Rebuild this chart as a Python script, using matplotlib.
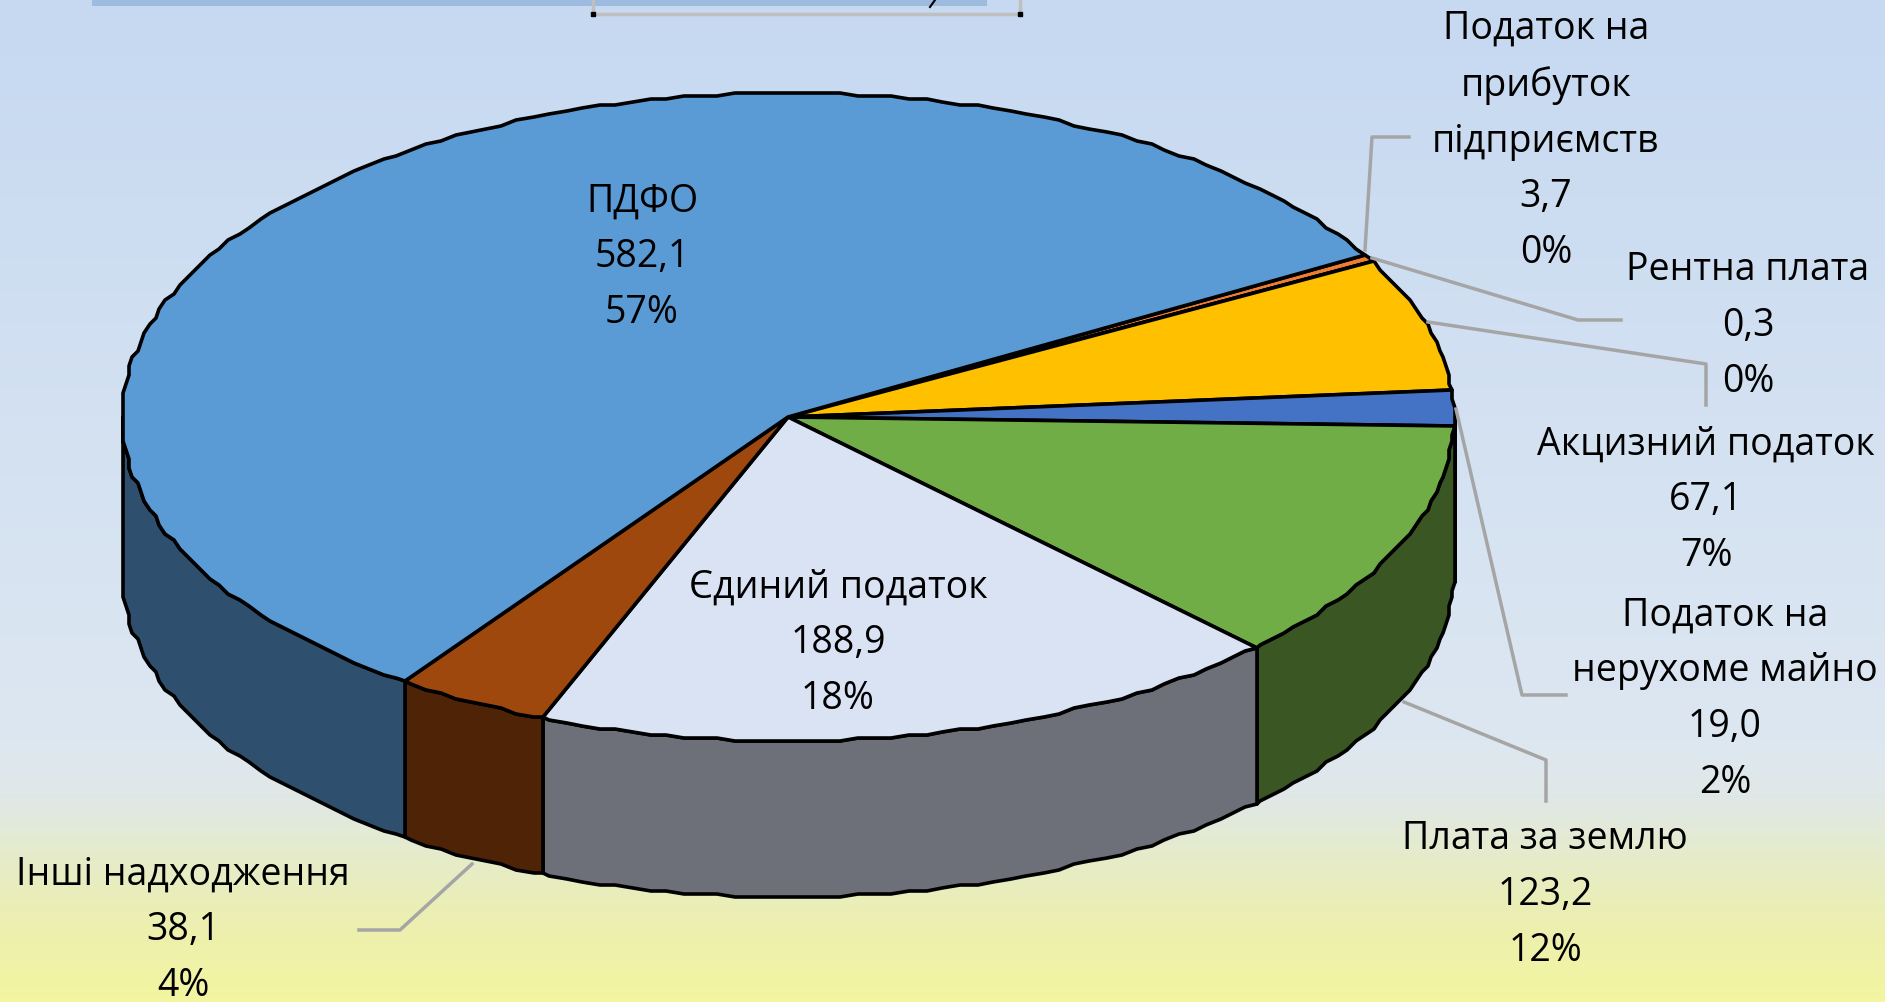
import numpy as np
import matplotlib
matplotlib.use('Agg')
from matplotlib import pyplot as plt
from matplotlib.colors import LinearSegmentedColormap
from matplotlib.patches import Polygon, Rectangle

names = ['Податок на\nприбуток\nпідприємств', 'Рентна плата', 'Акцизний податок',
         'Податок на\nнерухоме майно', 'Плата за землю', 'Єдиний податок',
         'Інші надходження', 'ПДФО']
values = [3.7, 0.3, 67.1, 19.0, 123.2, 188.9, 38.1, 582.1]
percents = [0, 0, 7, 2, 12, 18, 4, 57]
top_colors = ['#ED7D31', '#A5A5A5', '#FFC000', '#4472C4', '#70AD47', '#DAE3F3', '#9E480E', '#5B9BD5']
side_colors = ['#8A4A1D', '#606060', '#947000', '#28447A', '#3A5723', '#6D7079', '#4F2306', '#2F4F6E']

# label centres, pixels of the reference
label_pos = [(1546, 141), (1748, 326), (1706, 500), (1725, 699), (1545, 895), (838, 643), (183, 930), (642, 257)]
leaders = [[(1409, 137), (1372, 137), (1365, 250)],
           [(1621, 320), (1578, 320), (1372, 258)],
           [(1706, 405), (1706, 364), (1428, 322)],
           [(1566, 695), (1522, 695), (1456, 409)],
           [(1546, 801), (1546, 760), (1404, 702)],
           [(359, 930), (400, 930), (472, 864)]]

W, H = 1885, 1002
cx, cy, a, b, depth = 788, 417, 666, 324, 156
start = 29.9
step = 1.5

plt.rcParams['font.family'] = ['Open Sans', 'DejaVu Sans']

fig = plt.figure(figsize=(W / 100, H / 100), dpi=100)
ax = fig.add_axes([0, 0, 1, 1])
ax.set_xlim(0, W)
ax.set_ylim(H, 0)
ax.axis('off')

bg = LinearSegmentedColormap.from_list('bg', [(0, '#C6D9F1'), (0.74, '#DDE7F1'), (0.8, '#E0E8E6'),
                                              (0.86, '#E6ECC8'), (0.93, '#EDF0AE'), (1, '#F3F5A0')])
ax.imshow(np.linspace(0, 1, 256).reshape(-1, 1), cmap=bg, extent=[0, W, H, 0], aspect='auto', zorder=0)

# remains of the shape cut off at the top edge
ax.add_patch(Rectangle((92, -5), 895, 11, color='#9DBADF', zorder=1, lw=0))
ax.plot([593, 593, 1020, 1020], [-5, 14, 14, -5], color='#BFBFBF', lw=2.5, zorder=2, solid_joinstyle='miter')
ax.plot([593, 1020], [14, 14], ls='', marker='s', ms=2.5, color='black', zorder=3)
ax.plot([935, 930], [0, 7], color='black', lw=1.5, zorder=3)


def rim(t1, t2):
    # same angle grid for every slice, so side and top outlines coincide
    inner = np.arange(np.ceil(t2 / step), np.floor(t1 / step) + 1)[::-1] * step
    t = np.radians(np.concatenate([[t1], inner, [t2]]))
    x = cx + a * np.cos(t)
    y = cy - b * np.sin(t)
    # the outline of the reference is stepped
    return np.column_stack([np.round(x / 3) * 3, np.round(y / 3) * 3])


edges = start - np.cumsum([0] + values) / sum(values) * 360

# sides: only the front half of the rim shows
for i in range(len(values)):
    t1, t2 = edges[i], edges[i + 1]
    lo, hi = max(t2, -180), min(t1, 0)
    if lo < hi:
        r = rim(hi, lo)
        pts = np.vstack([r, (r + [0, depth])[::-1]])
        ax.add_patch(Polygon(pts, closed=True, fc=side_colors[i], ec='black', lw=2.6, zorder=4, joinstyle='round'))

# top face
for i in range(len(values)):
    r = rim(edges[i], edges[i + 1])
    pts = np.vstack([[cx, cy], r])
    ax.add_patch(Polygon(pts, closed=True, fc=top_colors[i], ec='black', lw=2.6, zorder=5, joinstyle='round'))

for pts in leaders:
    xs, ys = zip(*pts)
    ax.plot(xs, ys, color='#A5A5A5', lw=2.5, zorder=6)

for name, val, pct, (x, y) in zip(names, values, percents, label_pos):
    s = name + '\n' + f'{val:.1f}'.replace('.', ',') + f'\n{pct}%'
    ax.text(x, y, s, ha='center', va='center', fontsize=27, linespacing=1.61, color='black', zorder=7)

fig.savefig('out.png', dpi=100)
